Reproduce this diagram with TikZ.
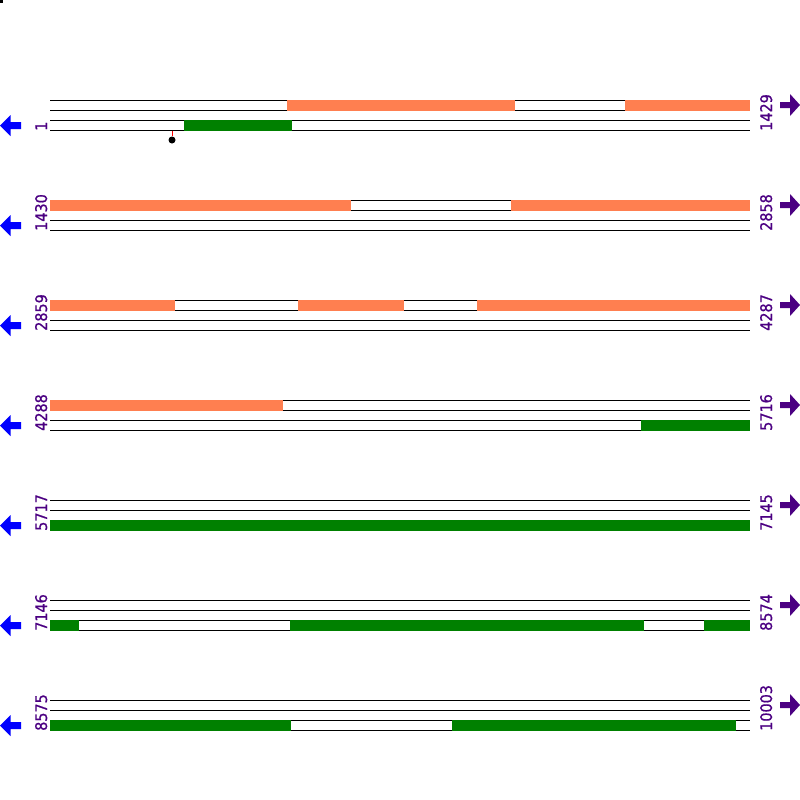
\documentclass[tikz,border=0pt]{standalone}
\usepackage{fontspec}
\newfontfamily\lblfont{DejaVu Sans Condensed}[FakeBold=0.8]
\definecolor{coral}{RGB}{255,127,80}
\definecolor{dgreen}{RGB}{0,128,0}
\definecolor{indigo}{RGB}{75,0,130}
\begin{document}
\begin{tikzpicture}[x=1pt,y=-1pt,
  strand/.style={draw=black,line width=1pt},
  fwdbar/.style={fill=coral},
  revbar/.style={fill=dgreen},
  poslabel/.style={text=indigo,font=\lblfont\fontsize{16}{16}\selectfont,rotate=90,anchor=base west,inner sep=0pt},
  leftarrow/.style={fill=blue},
  rightarrow/.style={fill=indigo}]
\useasboundingbox (0,0) rectangle (800,800);
\fill[black] (0,0) rectangle (3,3);
\foreach \k/\a/\b in {0/1/1429,1/1430/2858,2/2859/4287,3/4288/5716,4/5717/7145,5/7146/8574,6/8575/10003}{
  \begin{scope}[yshift=-100*\k pt]
    \foreach \yy in {100,110,120,130} \draw[strand] (50,\yy) -- (750,\yy);
    \node[poslabel] (l\k) at (47,131) {\a};
    \node[poslabel] (r\k) at (772,131) {\b};
    \fill[leftarrow] (0,125.5) -- (10.5,115) -- (10.5,122) -- (21,122) -- (21,129) -- (10.5,129) -- (10.5,136) -- cycle;
    \fill[rightarrow] (800,105) -- (790,94) -- (790,102) -- (780,102) -- (780,108) -- (790,108) -- (790,116) -- cycle;
  \end{scope}
}
% row 0
\fill[fwdbar] (287,99.5) rectangle (515,110.5);
\fill[fwdbar] (625,99.5) rectangle (750,110.5);
\fill[revbar] (184,119.5) rectangle (292,130.5);
% row 1
\fill[fwdbar] (50,199.5) rectangle (351,210.5);
\fill[fwdbar] (511,199.5) rectangle (750,210.5);
% row 2
\fill[fwdbar] (50,299.5) rectangle (175,310.5);
\fill[fwdbar] (298,299.5) rectangle (404,310.5);
\fill[fwdbar] (477,299.5) rectangle (750,310.5);
% row 3
\fill[fwdbar] (50,399.5) rectangle (283,410.5);
\fill[revbar] (641,419.5) rectangle (750,430.5);
% row 4
\fill[revbar] (50,519.5) rectangle (750,530.5);
% row 5
\fill[revbar] (50,619.5) rectangle (79,630.5);
\fill[revbar] (290,619.5) rectangle (644,630.5);
\fill[revbar] (704,619.5) rectangle (750,630.5);
% row 6
\fill[revbar] (50,719.5) rectangle (291,730.5);
\fill[revbar] (452,719.5) rectangle (736,730.5);
% marker
\coordinate (m0) at (172,130.5);
\node[circle,fill=black,inner sep=0pt,minimum size=7pt] (m1) at (172,140) {};
\draw[red,line width=1pt] (m0) -- (m1.north);
\end{tikzpicture}
\end{document}
